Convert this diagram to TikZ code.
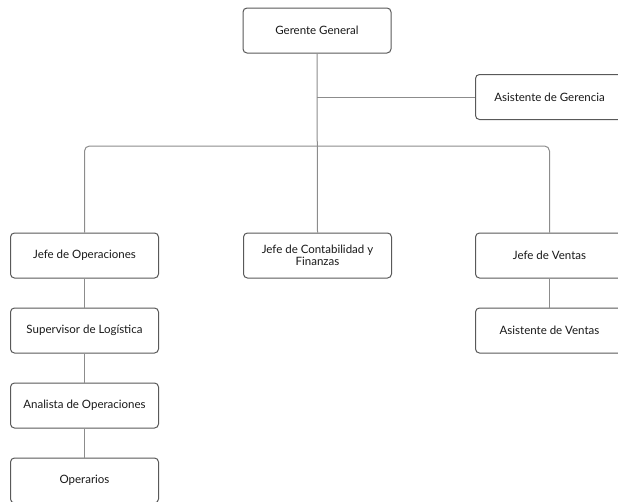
\documentclass[tikz,border=0pt]{standalone}
\usepackage{fontspec}
\setmainfont{Lato}
\begin{document}
\begin{tikzpicture}[x=1pt,y=-1pt,
  box/.style={draw=black!65, line width=1pt, rounded corners=4pt, fill=white,
    minimum width=148pt, minimum height=45pt, align=center, inner sep=2pt,
    font=\fontsize{11.5}{12.5}\selectfont, text=black!90},
  link/.style={draw=black!45, line width=1pt}]
\useasboundingbox (0,0) rectangle (618,501);
\clip (0,0) rectangle (618,501);
\node[box] (gg) at (317,30.5) {Gerente General};
\node[box] (ag) at (549.5,97) {Asistente de Gerencia};
\node[box] (jo) at (84.5,255.5) {Jefe de Operaciones};
\node[box] (jc) at (317.5,255.5) {Jefe de Contabilidad y\\Finanzas};
\node[box] (jv) at (549.5,255.5) {Jefe de Ventas};
\node[box] (sl) at (84.5,330.5) {Supervisor de Logística};
\node[box] (av) at (549.5,330.5) {Asistente de Ventas};
\node[box] (ao) at (84.5,405.5) {Analista de Operaciones};
\node[box] (op) at (84.5,480.5) {Operarios};
\coordinate (ja) at (gg.south |- ag.west);
\draw[link] (gg.south) -- (jc.north);
\draw[link] (ja) -- (ag.west);
\draw[link, rounded corners=5pt] (jo.north) -- (jo.north |- 0,146) -- (jv.north |- 0,146) -- (jv.north);
\draw[link] (jo.south) -- (sl.north);
\draw[link] (sl.south) -- (ao.north);
\draw[link] (ao.south) -- (op.north);
\draw[link] (jv.south) -- (av.north);
\end{tikzpicture}
\end{document}
